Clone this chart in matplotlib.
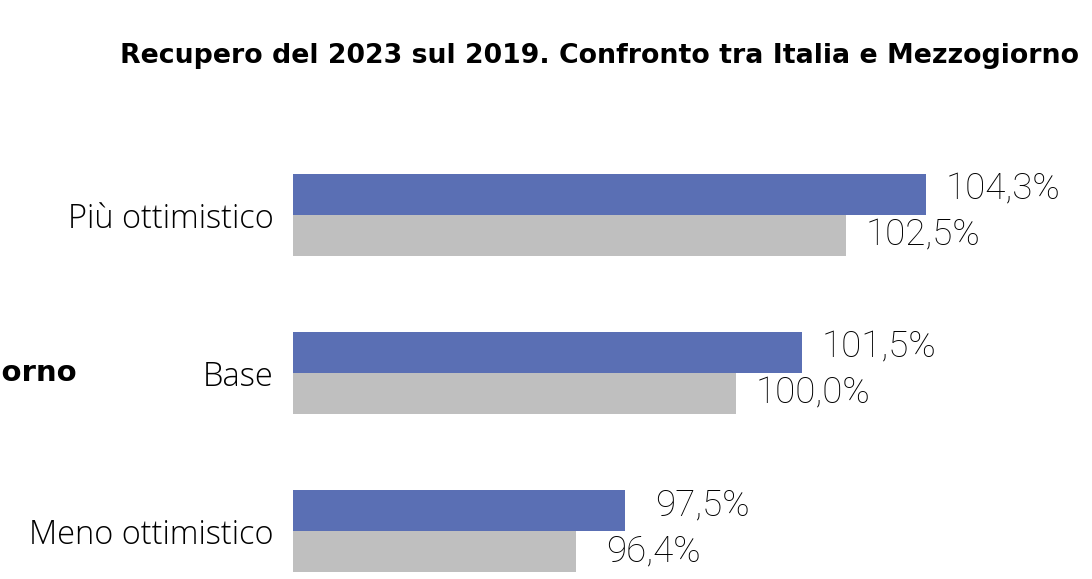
import matplotlib
matplotlib.use("Agg")
import matplotlib.pyplot as plt

categories = ["Meno ottimistico", "Base", "Più ottimistico"]
mezzogiorno = [97.5, 101.5, 104.3]
italia = [96.4, 100.0, 102.5]
labels_mezz = ["97,5%", "101,5%", "104,3%"]
labels_ita = ["96,4%", "100,0%", "102,5%"]
title = "Recupero del 2023 sul 2019. Confronto tra Italia e Mezzogiorno"
side_label = "Mezzogiorno"

W, H = 1092, 579
fig = plt.figure(figsize=(W / 100, H / 100), dpi=100)
ax = fig.add_axes([293 / W, 0, 797 / W, (579 - 130) / H])

base = 90.0
blue = "#5A6FB4"
gray = "#BFBFBF"
h = 0.26
pos = list(range(len(categories)))
ax.barh([p + h / 2 for p in pos], [v - base for v in mezzogiorno], height=h,
        left=base, color=blue)
ax.barh([p - h / 2 for p in pos], [v - base for v in italia], height=h,
        left=base, color=gray)

lab_font = dict(family=["Roboto", "DejaVu Sans"], fontweight="light",
                fontsize=26.5, color="black")
off = 77 / 44.3
for p, v, t in zip(pos, mezzogiorno, labels_mezz):
    ax.text(v + off, p + h / 2 + 0.03, t, ha="center", va="center", **lab_font)
for p, v, t in zip(pos, italia, labels_ita):
    ax.text(v + off, p - h / 2, t, ha="center", va="center", **lab_font)

ax.set_xlim(base, 108)
ax.set_ylim(-0.304, 2.538)
ax.set_yticks(pos)
ax.set_yticklabels(categories, family=["Open Sans", "DejaVu Sans"],
                   fontweight="light", fontsize=23.5)
ax.tick_params(axis="y", length=0, pad=14)
ax.set_xticks([])
for s in ax.spines.values():
    s.set_visible(False)

fig.text(600 / W, 1 - 56 / H, title, ha="center", va="center",
         fontsize=19.3, fontweight="bold", family="DejaVu Sans")
fig.text(77 / W, 1 - 373 / H, side_label, ha="right", va="center",
         fontsize=21, fontweight="bold", family="DejaVu Sans")

fig.savefig("out.png", dpi=100)
